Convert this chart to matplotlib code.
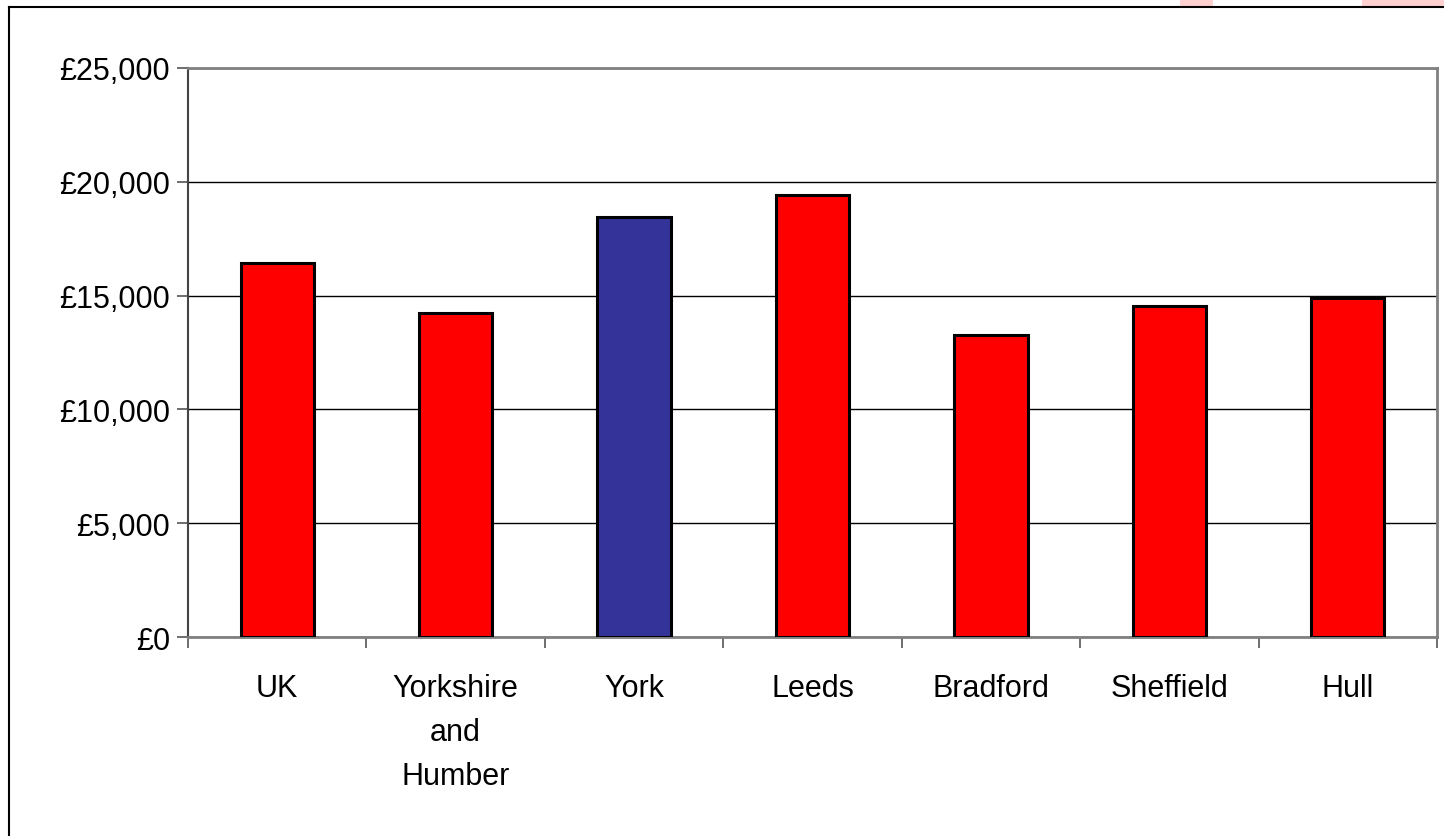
import matplotlib.pyplot as plt
from matplotlib.patches import Rectangle
from matplotlib.lines import Line2D
from matplotlib.ticker import FuncFormatter, MultipleLocator
import numpy as np

# Chart data
places = ["UK", "Yorkshire\nand\nHumber", "York", "Leeds", "Bradford", "Sheffield", "Hull"]
values = [16450, 14250, 18470, 19430, 13290, 14530, 14900]
bar_colors = ["#ff0000", "#ff0000", "#333399", "#ff0000", "#ff0000", "#ff0000", "#ff0000"]

plt.rcParams["font.family"] = ["Liberation Sans", "DejaVu Sans"]

if __name__ == "__main__":
    fig = plt.figure(figsize=(14.44, 8.37), dpi=100)
    ax = fig.add_axes([188 / 1444, 1 - 638 / 837, (1437 - 188) / 1444, (638 - 69) / 837])

    x = np.arange(len(places))
    ax.bar(x, values, width=0.41, color=bar_colors, edgecolor="black", linewidth=2.2, zorder=3)

    ax.set_xlim(-0.5, len(places) - 0.5)
    ax.set_ylim(0, 25000)
    ax.yaxis.set_major_locator(MultipleLocator(5000))
    ax.yaxis.set_major_formatter(FuncFormatter(lambda v, p: "£{:,.0f}".format(v)))

    # Horizontal gridlines in black
    ax.grid(axis="y", color="black", linewidth=1.0, zorder=1)
    ax.set_axisbelow(True)

    # Ticks: labels centred on bars, tick marks at category boundaries
    ax.set_xticks(x)
    ax.set_xticklabels(places, fontsize=22, linespacing=1.6, va="top")
    ax.set_xticks(np.arange(-0.5, len(places)), minor=True)
    ax.tick_params(axis="x", which="major", length=0, pad=26)
    ax.tick_params(axis="x", which="minor", length=8, width=1.2, color="#555555", direction="out")
    ax.tick_params(axis="y", length=8, width=1.2, color="#555555", direction="out", pad=5, labelsize=22)

    for side in ["top", "right", "bottom"]:
        ax.spines[side].set_color("#808080")
        ax.spines[side].set_linewidth(2)
    ax.spines["left"].set_color("#444444")
    ax.spines["left"].set_linewidth(1.5)

    # Outer chart border (left and top edges visible)
    fig.add_artist(Line2D([9 / 1444, 9 / 1444], [0, 1 - 8 / 837], color="black", linewidth=1.5))
    fig.add_artist(Line2D([9 / 1444, 1], [1 - 8 / 837, 1 - 8 / 837], color="black", linewidth=1.5))

    # Faint pink fragments above the border at the top right
    fig.add_artist(Rectangle((1180 / 1444, 1 - 7 / 837), 33 / 1444, 7 / 837, color="#ffd0d0", lw=0))
    fig.add_artist(Rectangle((1362 / 1444, 1 - 7 / 837), 82 / 1444, 7 / 837, color="#ffd0d0", lw=0))

    fig.savefig("out.png", dpi=100)
